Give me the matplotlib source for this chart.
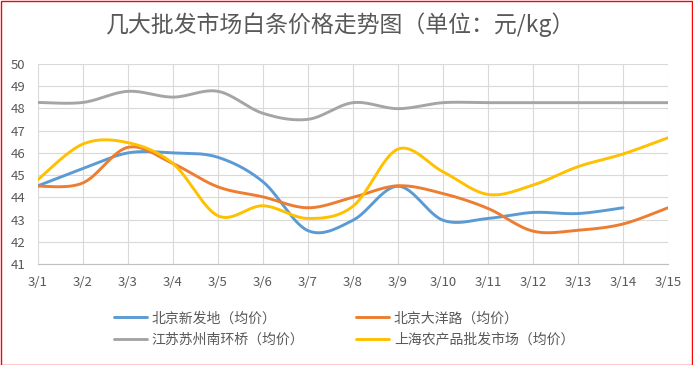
import numpy as np
import matplotlib
matplotlib.use("Agg")
import matplotlib.pyplot as plt
from matplotlib.patches import Rectangle

plt.rcParams['font.family'] = ['Noto Sans CJK SC', 'DejaVu Sans']

dates = ["3/1", "3/2", "3/3", "3/4", "3/5", "3/6", "3/7", "3/8",
         "3/9", "3/10", "3/11", "3/12", "3/13", "3/14", "3/15"]

xinfadi = [44.52, 45.3, 46.0, 46.0, 45.8, 44.7, 42.5, 42.97, 44.5, 42.97,
           43.05, 43.32, 43.27, 43.53]
dayanglu = [44.5, 44.65, 46.25, 45.52, 44.47, 44.02, 43.53, 44.0, 44.52, 44.17,
            43.5, 42.48, 42.52, 42.8, 43.53]
suzhou = [48.27, 48.27, 48.77, 48.51, 48.77, 47.78, 47.51, 48.26, 47.99, 48.26,
          48.26, 48.26, 48.26, 48.26, 48.26]
shanghai = [44.8, 46.4, 46.46, 45.52, 43.17, 43.62, 43.05, 43.6, 46.17, 45.15,
            44.13, 44.55, 45.38, 45.95, 46.68]

names = ["北京新发地（均价）", "北京大洋路（均价）",
         "江苏苏州南环桥（均价）", "上海农产品批发市场（均价）"]
colors = ["#5B9BD5", "#ED7D31", "#A5A5A5", "#FFC000"]


def smooth(y, n=30):
    # bezier smoothing like excel (catmull-rom control points)
    y = np.asarray(y, dtype=float)
    x = np.arange(len(y), dtype=float)
    p = np.column_stack([x, y])
    out = [p[:1]]
    t = np.linspace(0, 1, n)[1:, None]
    for i in range(len(p) - 1):
        p0 = p[i - 1] if i > 0 else p[i]
        p3 = p[i + 2] if i + 2 < len(p) else p[i + 1]
        c1 = p[i] + (p[i + 1] - p0) / 6
        c2 = p[i + 1] - (p3 - p[i]) / 6
        seg = ((1 - t) ** 3 * p[i] + 3 * (1 - t) ** 2 * t * c1
               + 3 * (1 - t) * t ** 2 * c2 + t ** 3 * p[i + 1])
        out.append(seg)
    out = np.vstack(out)
    return out[:, 0], out[:, 1]


fig = plt.figure(figsize=(6.93, 3.65), dpi=100)
ax = fig.add_axes([38 / 693, 1 - 264 / 365, 630 / 693, 200 / 365])

lines = []
for vals, name, c in zip([xinfadi, dayanglu, suzhou, shanghai], names, colors):
    xs, ys = smooth(vals)
    ln, = ax.plot(xs, ys, color=c, lw=2.1, label=name, solid_capstyle='round')
    lines.append(ln)

ax.set_xlim(0, len(dates) - 1)
ax.set_ylim(41, 50)
ax.set_xticks(range(len(dates)))
ax.set_xticklabels(dates)
ax.set_yticks(range(41, 51))
ax.grid(True, color="#D9D9D9", lw=0.8)
ax.set_axisbelow(True)
for s in ["top", "right", "left"]:
    ax.spines[s].set_visible(False)
ax.spines["bottom"].set_color("#BFBFBF")
ax.tick_params(length=0, labelsize=9.5, colors="#595959", pad=9)
ax.tick_params(axis='y', pad=9)

fig.text(341 / 693, 1 - 25 / 365, "几大批发市场白条价格走势图（单位：元/kg）",
         ha="center", va="center", fontsize=16.5, color="#595959")

# row-wise order like excel legend
order = [0, 2, 1, 3]
fig.legend([lines[i] for i in order], [names[i] for i in order],
           loc="center", bbox_to_anchor=(344 / 693, 1 - 329 / 365), ncol=2,
           frameon=False, fontsize=10, handlelength=2.4, handletextpad=0.35,
           columnspacing=3.7, labelspacing=0.55, labelcolor="#595959")

fig.patches.append(Rectangle((0.5 / 693, 0.5 / 365), 691.5 / 693, 363.5 / 365,
                             transform=fig.transFigure, fill=False,
                             edgecolor="red", lw=1))

fig.savefig("out.png", dpi=100)
